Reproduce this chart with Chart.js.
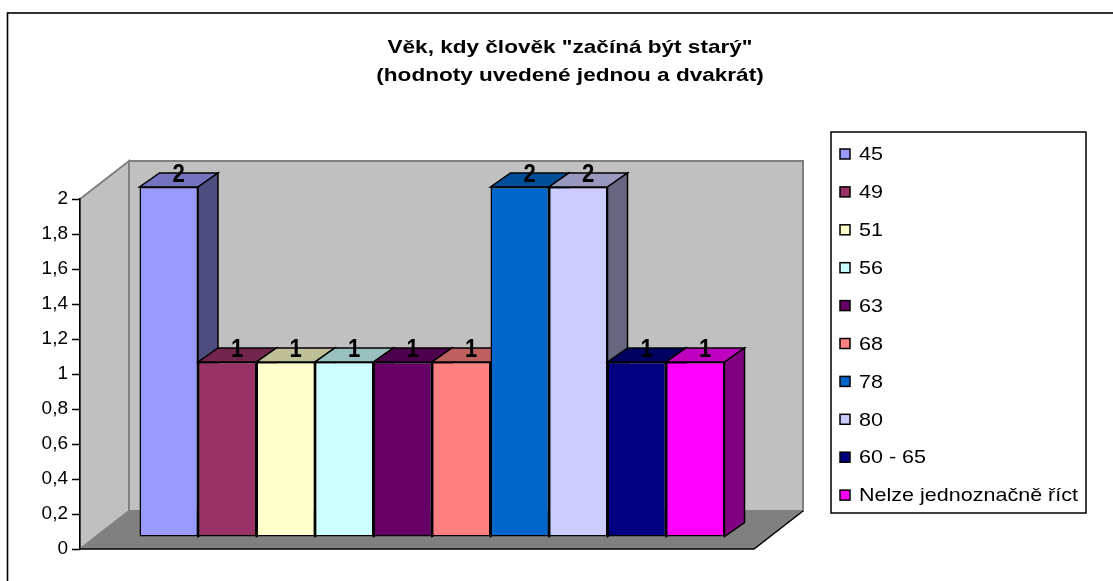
<!DOCTYPE html>
<html lang="cs">
<head>
<meta charset="UTF-8">
<title>Věk, kdy člověk "začíná být starý"</title>
<script src="https://cdn.jsdelivr.net/npm/chart.js"></script>
<style>
  html, body { margin: 0; padding: 0; background: #fff; }
</style>
</head>
<body>
<canvas id="chart" width="1113" height="581"></canvas>
<script>
const titleLines = ['Věk, kdy člověk "začíná být starý"', '(hodnoty uvedené jednou a dvakrát)'];
const ageLabels = ['45', '49', '51', '56', '63', '68', '78', '80', '60 - 65', 'Nelze jednoznačně říct'];
const counts = [2, 1, 1, 1, 1, 1, 2, 2, 1, 1];
const barColors = ['#9999FF', '#993366', '#FFFFCC', '#CCFFFF', '#660066', '#FF8080', '#0066CC', '#CCCCFF', '#000080', '#FF00FF'];
const yTickLabels = ['0', '0,2', '0,4', '0,6', '0,8', '1', '1,2', '1,4', '1,6', '1,8', '2'];

const FONT = '"Liberation Sans", Arial, sans-serif';
// depth of the walls and of the bars (excel 3d look)
const WALL = { dx: 49, dy: -38 };
const BAR_SHIFT = { dx: 15, dy: -12 };
const BAR_DEPTH = { dx: 20, dy: -14 };

function shade(hex, f) {
    const n = parseInt(hex.slice(1), 16);
    const r = Math.round(((n >> 16) & 255) * f);
    const g = Math.round(((n >> 8) & 255) * f);
    const b = Math.round((n & 255) * f);
    return `rgb(${r},${g},${b})`;
}

function poly(ctx, pts, fill, stroke, lw) {
    ctx.beginPath();
    ctx.moveTo(pts[0][0], pts[0][1]);
    for (let i = 1; i < pts.length; i++) ctx.lineTo(pts[i][0], pts[i][1]);
    ctx.closePath();
    if (fill) { ctx.fillStyle = fill; ctx.fill(); }
    if (stroke) { ctx.strokeStyle = stroke; ctx.lineWidth = lw || 1; ctx.stroke(); }
}

const excel3d = {
    id: 'excel3d',
    beforeDraw(chart) {
        const ctx = chart.ctx;
        const a = chart.chartArea;
        ctx.save();
        // outer frame
        ctx.strokeStyle = '#000';
        ctx.lineWidth = 1.6;
        ctx.strokeRect(7.5, 13, 1200, 700);
        // back wall
        poly(ctx, [[a.left + WALL.dx, a.top + WALL.dy], [a.right + WALL.dx, a.top + WALL.dy],
            [a.right + WALL.dx, a.bottom + WALL.dy], [a.left + WALL.dx, a.bottom + WALL.dy]], '#C0C0C0', '#808080', 2);
        // left wall
        poly(ctx, [[a.left, a.top], [a.left + WALL.dx, a.top + WALL.dy],
            [a.left + WALL.dx, a.bottom + WALL.dy], [a.left, a.bottom]], '#C0C0C0', '#808080', 2);
        // floor
        poly(ctx, [[a.left, a.bottom], [a.left + WALL.dx, a.bottom + WALL.dy],
            [a.right + WALL.dx, a.bottom + WALL.dy], [a.right, a.bottom]], '#808080');
        ctx.beginPath();
        ctx.moveTo(a.left, a.bottom);
        ctx.lineTo(a.right, a.bottom);
        ctx.lineTo(a.right + WALL.dx, a.bottom + WALL.dy);
        ctx.strokeStyle = '#000';
        ctx.lineWidth = 1.5;
        ctx.stroke();
        ctx.restore();
    },
    beforeDatasetDraw() {
        return false; // drawn below, left to right
    },
    afterDatasetsDraw(chart) {
        const ctx = chart.ctx;
        ctx.save();
        ctx.translate(BAR_SHIFT.dx, BAR_SHIFT.dy);
        chart.data.datasets.forEach((ds, i) => {
            const el = chart.getDatasetMeta(i).data[0];
            const L = el.x - el.width / 2, R = el.x + el.width / 2, T = el.y, B = el.base;
            el.draw(ctx);
            poly(ctx, [[L, T], [R, T], [R + BAR_DEPTH.dx, T + BAR_DEPTH.dy], [L + BAR_DEPTH.dx, T + BAR_DEPTH.dy]],
                shade(ds.backgroundColor, 0.75), '#000', 1.5);
            poly(ctx, [[R, T], [R + BAR_DEPTH.dx, T + BAR_DEPTH.dy], [R + BAR_DEPTH.dx, B + BAR_DEPTH.dy], [R, B]],
                shade(ds.backgroundColor, 0.5), '#000', 1.5);
        });
        // value labels on the top faces
        ctx.fillStyle = '#000';
        ctx.font = 'bold 26px ' + FONT;
        ctx.textAlign = 'center';
        ctx.textBaseline = 'alphabetic';
        chart.data.datasets.forEach((ds, i) => {
            const el = chart.getDatasetMeta(i).data[0];
            const x = el.x + BAR_DEPTH.dx / 2, y = el.y + BAR_DEPTH.dy / 2 + 2;
            ctx.save();
            ctx.translate(x, y);
            ctx.scale(0.85, 1);
            ctx.fillText(String(ds.data[0]), 0, 0);
            ctx.restore();
        });
        ctx.restore();
    },
    afterDraw(chart) {
        const ctx = chart.ctx;
        ctx.save();
        ctx.fillStyle = '#000';
        ctx.textBaseline = 'middle';

        // title
        ctx.font = 'bold 19px ' + FONT;
        ctx.textAlign = 'center';
        const ts = 365 / ctx.measureText(titleLines[0]).width;
        titleLines.forEach((t, i) => {
            ctx.save();
            ctx.translate(570, 48 + i * 28);
            ctx.scale(ts, 1);
            ctx.fillText(t, 0, 0);
            ctx.restore();
        });

        // legend
        ctx.strokeStyle = '#000';
        ctx.lineWidth = 1.5;
        ctx.strokeRect(831, 132, 255, 381);
        ctx.font = '19px ' + FONT;
        ctx.textAlign = 'left';
        const ls = 219 / ctx.measureText(ageLabels[ageLabels.length - 1]).width;
        chart.data.datasets.forEach((ds, i) => {
            const y = 154 + i * 37.9;
            ctx.fillStyle = ds.backgroundColor;
            ctx.fillRect(840, y - 5, 10, 10);
            ctx.strokeStyle = '#000';
            ctx.lineWidth = 1.5;
            ctx.strokeRect(840, y - 5, 10, 10);
            ctx.fillStyle = '#000';
            ctx.save();
            ctx.translate(859, y + 1);
            ctx.scale(ls, 1);
            ctx.fillText(ds.label, 0, 0);
            ctx.restore();
        });
        ctx.restore();
    }
};

new Chart(document.getElementById('chart'), {
    type: 'bar',
    data: {
        labels: [''],
        datasets: ageLabels.map((lab, i) => ({
            label: lab,
            data: [counts[i]],
            backgroundColor: barColors[i],
            borderColor: '#000',
            borderWidth: 1.5,
            borderSkipped: false,
            barPercentage: 1,
            categoryPercentage: 0.868
        }))
    },
    options: {
        responsive: false,
        devicePixelRatio: 1,
        animation: false,
        layout: { padding: { left: 8, top: 199, right: 359, bottom: 32 } },
        plugins: {
            legend: { display: false },
            title: { display: false },
            tooltip: { enabled: false }
        },
        scales: {
            x: { display: false },
            y: {
                min: 0,
                max: 2,
                afterFit(scale) { scale.width = 72; },
                ticks: {
                    stepSize: 0.2,
                    color: '#000',
                    padding: 4,
                    font: { family: FONT, size: 19 },
                    callback: (v, i) => yTickLabels[i] ?? ''
                },
                grid: { drawOnChartArea: false, drawTicks: true, tickLength: 8, tickColor: '#000', tickWidth: 1.5 },
                border: { color: '#000', width: 1.5 }
            }
        }
    },
    plugins: [excel3d]
});
</script>
</body>
</html>
